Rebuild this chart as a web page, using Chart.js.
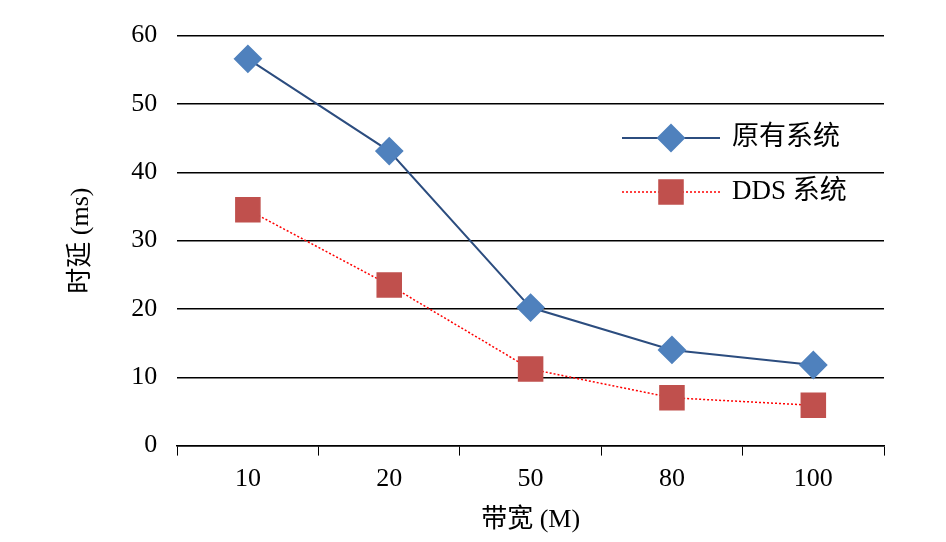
<!DOCTYPE html><html><head><meta charset="utf-8">
<script src="https://cdn.jsdelivr.net/npm/chart.js@4"></script>
<style>html,body{margin:0;background:#fff}#w{width:946px;height:542px}</style></head><body>
<div id="w"><canvas id="c"></canvas></div>
<script>
const categories=['10','20','50','80','100'];
const original=[56.6,43.1,20.2,14.0,11.8];
const dds=[34.5,23.5,11.2,7.0,5.9];
const yTicks=[0,10,20,30,40,50,60];
const F='"Liberation Serif","Noto Sans CJK SC",serif';
const legendPlugin={id:'lg',afterDraw(ch){
 const c=ch.ctx;c.save();
 const items=[{t:'原有系统',line:'#2c4d7f',dash:[],fill:'#4f81bd',style:'rectRot',r:13,y:138},
 {t:'DDS 系统',line:'#ff0000',dash:[2,2],fill:'#c0504d',style:'rect',r:17,y:192}];
 items.forEach(it=>{
  c.strokeStyle=it.line;c.lineWidth=it.dash.length?1.5:2;c.setLineDash(it.dash);
  c.beginPath();c.moveTo(622,it.y);c.lineTo(720,it.y);c.stroke();c.setLineDash([]);
  c.fillStyle=it.fill;c.strokeStyle=it.fill;
  Chart.helpers.drawPoint(c,{pointStyle:it.style,radius:it.r,borderWidth:1},671,it.y);c.fill();
  c.fillStyle='#000';c.font='27px '+F;c.textBaseline='middle';c.fillText(it.t,732,it.y);
 });c.restore();}};
new Chart(document.getElementById('c'),{type:'line',
 data:{labels:categories,datasets:[
  {data:original,borderColor:'#2c4d7f',borderWidth:2,pointStyle:'rectRot',pointRadius:13,pointBackgroundColor:'#4f81bd',pointBorderColor:'#4f81bd',tension:0},
  {data:dds,borderColor:'#ff0000',borderWidth:1.5,borderDash:[2,2],pointStyle:'rect',pointRadius:17,pointBackgroundColor:'#c0504d',pointBorderColor:'#c0504d',tension:0}]},
 options:{responsive:true,maintainAspectRatio:false,animation:false,
  layout:{padding:{top:0,right:62,left:62,bottom:2}},
  plugins:{legend:{display:false},tooltip:{enabled:false}},
  scales:{
   x:{offset:true,grid:{offset:true,drawOnChartArea:false,drawTicks:true,tickLength:10,color:'#000'},border:{color:'#000',width:1.5},
     ticks:{color:'#000',font:{family:F,size:26},padding:8},
     title:{display:true,text:'带宽 (M)',color:'#000',font:{family:F,size:26},padding:{top:2}}},
   y:{min:0,max:60,afterBuildTicks:s=>{s.ticks=yTicks.map(v=>({value:v}))},
     grid:{color:'#000',lineWidth:1.5,drawTicks:false},border:{display:false},
     ticks:{color:'#000',font:{family:F,size:26},padding:20},
     title:{display:true,text:'时延 (ms)',color:'#000',font:{family:F,size:26},padding:{bottom:14}}}}},
 plugins:[legendPlugin]});
</script></body></html>
